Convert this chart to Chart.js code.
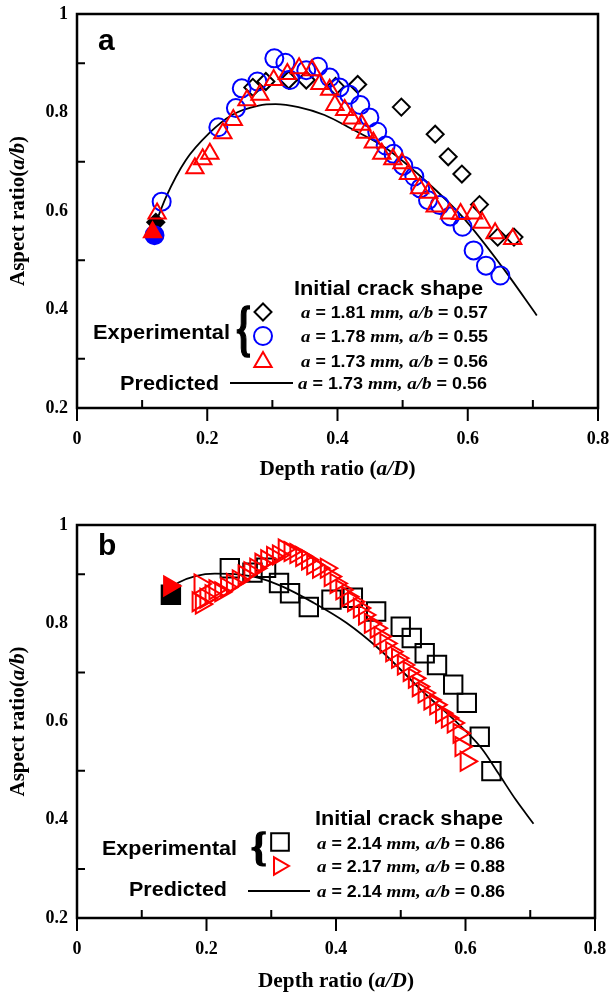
<!DOCTYPE html>
<html><head><meta charset="utf-8">
<script src="https://cdn.jsdelivr.net/npm/chart.js@4/dist/chart.umd.min.js"></script>
<style>
html,body{margin:0;padding:0;background:#fff;}
#wrap{position:relative;width:610px;height:992px;overflow:hidden;}
canvas{position:absolute;left:0;}
</style></head><body>
<div id="wrap">
<canvas id="c1" width="610" height="510" style="top:0px"></canvas>
<canvas id="c2" width="610" height="482" style="top:510px"></canvas>
</div>
<script>
// ---------- Panel (a) data ----------
const aDiamondX = [0.121, 0.270, 0.290, 0.325, 0.352, 0.397, 0.431, 0.498, 0.550, 0.570, 0.591, 0.618, 0.646, 0.671];
const aDiamondY = [0.577, 0.851, 0.863, 0.866, 0.866, 0.853, 0.857, 0.811, 0.756, 0.710, 0.675, 0.613, 0.547, 0.547];
const aCircleX = [0.119, 0.130, 0.217, 0.244, 0.253, 0.277, 0.303, 0.320, 0.327, 0.352, 0.370, 0.388, 0.403, 0.418, 0.435, 0.449, 0.461, 0.474, 0.486, 0.501, 0.518, 0.527, 0.539, 0.557, 0.573, 0.592, 0.609, 0.628, 0.650];
const aCircleY = [0.551, 0.619, 0.770, 0.809, 0.849, 0.863, 0.910, 0.901, 0.866, 0.886, 0.893, 0.871, 0.851, 0.836, 0.815, 0.790, 0.761, 0.733, 0.716, 0.692, 0.670, 0.646, 0.622, 0.612, 0.589, 0.568, 0.520, 0.489, 0.469];
const aTriX = [0.116, 0.123, 0.181, 0.193, 0.204, 0.224, 0.240, 0.261, 0.281, 0.302, 0.323, 0.341, 0.361, 0.373, 0.388, 0.396, 0.411, 0.422, 0.437, 0.443, 0.455, 0.468, 0.485, 0.499, 0.509, 0.526, 0.540, 0.550, 0.572, 0.589, 0.609, 0.622, 0.642, 0.669];
const aTriY = [0.557, 0.595, 0.687, 0.705, 0.716, 0.758, 0.785, 0.825, 0.836, 0.866, 0.878, 0.890, 0.886, 0.858, 0.846, 0.815, 0.805, 0.788, 0.775, 0.759, 0.739, 0.716, 0.705, 0.697, 0.675, 0.646, 0.637, 0.609, 0.595, 0.594, 0.595, 0.576, 0.555, 0.543];
const aPredX = [0.116, 0.137, 0.167, 0.203, 0.238, 0.279, 0.305, 0.340, 0.380, 0.420, 0.474, 0.533, 0.592, 0.652, 0.706];
const aPredY = [0.558, 0.629, 0.703, 0.758, 0.795, 0.814, 0.817, 0.811, 0.795, 0.768, 0.728, 0.664, 0.588, 0.488, 0.388];

// ---------- Panel (b) data ----------
const bSquareX = [0.145, 0.236, 0.271, 0.292, 0.312, 0.329, 0.358, 0.393, 0.426, 0.462, 0.500, 0.517, 0.537, 0.556, 0.581, 0.602, 0.622, 0.640];
const bSquareY = [0.858, 0.912, 0.903, 0.913, 0.882, 0.861, 0.833, 0.848, 0.852, 0.824, 0.793, 0.770, 0.739, 0.715, 0.675, 0.638, 0.569, 0.499];
const bTriX = [0.143, 0.190, 0.187, 0.192, 0.199, 0.207, 0.213, 0.222, 0.231, 0.240, 0.249, 0.258, 0.267, 0.276, 0.284, 0.293, 0.302, 0.311, 0.320, 0.329, 0.338, 0.347, 0.356, 0.364, 0.373, 0.385, 0.391, 0.400, 0.409, 0.418, 0.427, 0.436, 0.444, 0.453, 0.462, 0.468, 0.477, 0.486, 0.495, 0.504, 0.513, 0.521, 0.527, 0.536, 0.545, 0.554, 0.563, 0.572, 0.581, 0.590, 0.593, 0.601];
const bTriY = [0.876, 0.880, 0.844, 0.839, 0.851, 0.858, 0.868, 0.864, 0.873, 0.881, 0.888, 0.898, 0.905, 0.912, 0.922, 0.929, 0.936, 0.939, 0.951, 0.946, 0.942, 0.936, 0.929, 0.919, 0.912, 0.912, 0.895, 0.881, 0.868, 0.854, 0.844, 0.831, 0.817, 0.800, 0.790, 0.773, 0.759, 0.742, 0.729, 0.715, 0.702, 0.688, 0.671, 0.658, 0.644, 0.634, 0.617, 0.607, 0.597, 0.576, 0.549, 0.519];
const bPredX = [0.132, 0.157, 0.183, 0.213, 0.243, 0.279, 0.315, 0.365, 0.416, 0.467, 0.538, 0.589, 0.625, 0.652, 0.678, 0.705];
const bPredY = [0.859, 0.883, 0.896, 0.901, 0.900, 0.893, 0.876, 0.842, 0.801, 0.747, 0.656, 0.595, 0.545, 0.492, 0.440, 0.392];

// ---------- Axis ticks ----------
const xTickLabels = ['0', '0.2', '0.4', '0.6', '0.8'];
const yTickLabels = ['0.2', '0.4', '0.6', '0.8', '1'];
const xMinorTicks = [0.1, 0.3, 0.5, 0.7];
const yMinorTicks = [0.3, 0.5, 0.7, 0.9];

const SANS = '"Liberation Sans", Arial, sans-serif';
const SERIF = '"Liberation Serif", "Times New Roman", serif';

function pts(xs, ys) { return xs.map((x, i) => ({x: x, y: ys[i]})); }
function fills(n, color) { return Array.from({length: n}, (_, i) => i === 0 ? color : 'rgba(0,0,0,0)'); }

function rich(ctx, segs, x, y, width, align) {
  let total = 0;
  for (const [t, f] of segs) { ctx.font = f; total += ctx.measureText(t).width; }
  const sx = width ? width / total : 1;
  ctx.save();
  ctx.translate(x, y);
  ctx.scale(sx, 1);
  ctx.textBaseline = 'alphabetic';
  ctx.textAlign = 'left';
  let cx = align === 'center' ? -total / 2 : 0;
  for (const [t, f] of segs) { ctx.font = f; ctx.fillText(t, cx, 0); cx += ctx.measureText(t).width; }
  ctx.restore();
}

function rowText(a, ab) {
  const it = 'italic bold 17px ' + SERIF, b = 'bold 16px ' + SANS;
  return [['a', it], [' = ' + a + ' ', b], ['mm', it], [', ', it], ['a/b', it], [' = ' + ab, b]];
}

function marker(ctx, style, rot, r, x, y, color, lw) {
  ctx.save();
  ctx.strokeStyle = color; ctx.fillStyle = 'rgba(0,0,0,0)'; ctx.lineWidth = lw;
  Chart.helpers.drawPoint(ctx, {pointStyle: style, rotation: rot, radius: r, borderWidth: lw}, x, y);
  ctx.restore();
}

function brace(ctx, x, top, bottom, w) {
  const h = bottom - top;
  const em = h / 0.86;
  ctx.save();
  ctx.fillStyle = '#000';
  ctx.strokeStyle = '#000';
  ctx.lineWidth = 1.6;
  ctx.font = 'bold ' + em + 'px ' + SERIF;
  ctx.textBaseline = 'alphabetic';
  ctx.textAlign = 'left';
  ctx.fillText('{', x, top + 0.68 * em, w);
  ctx.strokeText('{', x, top + 0.68 * em, w);
  ctx.restore();
}

function framePlugin(extra) {
  return {
    id: 'frame',
    afterDatasetsDraw(chart) {
      const ctx = chart.ctx, a = chart.chartArea, xs = chart.scales.x, ys = chart.scales.y;
      ctx.save();
      ctx.strokeStyle = '#000';
      ctx.lineWidth = 2;
      ctx.beginPath();
      for (const lab of xTickLabels) {
        const px = xs.getPixelForValue(parseFloat(lab));
        ctx.moveTo(px, a.bottom); ctx.lineTo(px, a.bottom + 13);
      }
      for (const v of xMinorTicks) {
        const px = xs.getPixelForValue(v);
        ctx.moveTo(px, a.bottom); ctx.lineTo(px, a.bottom - 8);
      }
      for (const v of yMinorTicks) {
        const py = ys.getPixelForValue(v);
        ctx.moveTo(a.left, py); ctx.lineTo(a.left + 8, py);
      }
      ctx.stroke();
      ctx.lineWidth = 2.5;
      ctx.strokeRect(a.left, a.top, a.right - a.left, a.bottom - a.top);
      ctx.restore();
      ctx.save();
      ctx.fillStyle = '#000';
      extra(ctx, chart);
      ctx.restore();
    }
  };
}

function makeChart(id, datasets, extra) {
  const canvas = document.getElementById(id);
  const H = canvas.height;
  return new Chart(canvas, {
    type: 'scatter',
    data: {datasets: datasets},
    options: {
      responsive: false,
      animation: false,
      events: [],
      layout: {padding: {left: 0, right: 8, top: 14, bottom: 0}},
      plugins: {legend: {display: false}, tooltip: {enabled: false}},
      scales: {
        x: {
          type: 'linear', min: 0, max: 0.8,
          grid: {display: false, drawTicks: false},
          border: {display: false},
          ticks: {
            stepSize: 0.2, padding: 21, color: '#000', maxRotation: 0,
            font: {family: SERIF, weight: 'bold', size: 18},
            callback: (v) => { const i = Math.round(v / 0.2); return Math.abs(v - i * 0.2) < 1e-6 ? xTickLabels[i] : ''; }
          },
          afterFit: (s) => { s.height = H - 408; s.paddingLeft = 0; s.paddingRight = 0; }
        },
        y: {
          type: 'linear', min: 0.2, max: 1,
          grid: {display: false, drawTicks: false},
          border: {display: false},
          ticks: {
            stepSize: 0.2, padding: 9, color: '#000',
            font: {family: SERIF, weight: 'bold', size: 18},
            callback: (v) => { const i = Math.round((v - 0.2) / 0.2); return Math.abs(v - 0.2 - i * 0.2) < 1e-6 ? yTickLabels[i] : ''; }
          },
          afterFit: (s) => { s.width = 77; s.paddingTop = 0; s.paddingBottom = 0; }
        }
      }
    },
    plugins: [framePlugin(extra)]
  });
}

function axisTitles(ctx, chart, xBase) {
  const a = chart.chartArea;
  const b = 'bold 20px ' + SERIF, it = 'italic bold 20px ' + SERIF;
  rich(ctx, [['Depth ratio (', b], ['a/D', it], [')', b]], (a.left + a.right) / 2, xBase, 156, 'center');
  ctx.save();
  ctx.translate(24, (a.top + a.bottom) / 2);
  ctx.rotate(-Math.PI / 2);
  rich(ctx, [['Aspect ratio(', b], ['a/b', it], [')', b]], 0, 0, 150, 'center');
  ctx.restore();
}

// ---------- Chart (a) ----------
makeChart('c1', [
  {data: pts(aTriX, aTriY), pointStyle: 'triangle', pointRadius: 10, borderColor: '#ff0000', pointBorderWidth: 2, pointBackgroundColor: fills(aTriX.length, '#ff0000'), showLine: false},
  {data: pts(aCircleX, aCircleY), pointStyle: 'circle', pointRadius: 9, borderColor: '#0000ff', pointBorderWidth: 2, pointBackgroundColor: fills(aCircleX.length, '#0000ff'), showLine: false},
  {data: pts(aDiamondX, aDiamondY), pointStyle: 'rectRot', pointRadius: 8.5, borderColor: '#000', pointBorderWidth: 2, pointBackgroundColor: fills(aDiamondX.length, '#000'), showLine: false},
  {data: pts(aPredX, aPredY), showLine: true, pointRadius: 0, borderColor: '#000', borderWidth: 1.8, cubicInterpolationMode: 'monotone', fill: false}
], (ctx, chart) => {
  ctx.font = 'bold 30px ' + SANS; ctx.textBaseline = 'alphabetic'; ctx.textAlign = 'left';
  ctx.fillText('a', 98, 50);
  rich(ctx, [['Initial crack shape', 'bold 20px ' + SANS]], 294, 295, 189);
  rich(ctx, rowText('1.81', '0.57'), 301, 318, 187);
  rich(ctx, rowText('1.78', '0.55'), 301, 342, 187);
  rich(ctx, rowText('1.73', '0.56'), 301, 367, 187);
  rich(ctx, rowText('1.73', '0.56'), 298, 389, 189);
  rich(ctx, [['Experimental', 'bold 20px ' + SANS]], 93, 339, 137);
  rich(ctx, [['Predicted', 'bold 20px ' + SANS]], 120, 390, 99);
  brace(ctx, 236, 307, 360, 15);
  marker(ctx, 'rectRot', 0, 8.5, 263, 312, '#000', 2);
  marker(ctx, 'circle', 0, 9, 263, 336, '#0000ff', 2);
  marker(ctx, 'triangle', 0, 10, 263, 362, '#ff0000', 2);
  ctx.strokeStyle = '#000'; ctx.lineWidth = 1.8;
  ctx.beginPath(); ctx.moveTo(230, 383); ctx.lineTo(293, 383); ctx.stroke();
  axisTitles(ctx, chart, 475);
});

// ---------- Chart (b) ----------
makeChart('c2', [
  {data: pts(bTriX, bTriY), pointStyle: 'triangle', pointRotation: 90, pointRadius: 11, borderColor: '#ff0000', pointBorderWidth: 2, pointBackgroundColor: fills(bTriX.length, '#ff0000'), showLine: false},
  {data: pts(bSquareX, bSquareY), pointStyle: 'rect', pointRadius: 13, borderColor: '#000', pointBorderWidth: 2, pointBackgroundColor: fills(bSquareX.length, '#000'), showLine: false},
  {data: pts(bPredX, bPredY), showLine: true, pointRadius: 0, borderColor: '#000', borderWidth: 1.8, cubicInterpolationMode: 'monotone', fill: false}
], (ctx, chart) => {
  ctx.font = 'bold 30px ' + SANS; ctx.textBaseline = 'alphabetic'; ctx.textAlign = 'left';
  ctx.fillText('b', 98, 45);
  rich(ctx, [['Initial crack shape', 'bold 20px ' + SANS]], 315, 315, 188);
  rich(ctx, rowText('2.14', '0.86'), 317, 339, 188);
  rich(ctx, rowText('2.17', '0.88'), 317, 362, 188);
  rich(ctx, rowText('2.14', '0.86'), 317, 387, 188);
  rich(ctx, [['Experimental', 'bold 20px ' + SANS]], 102, 345, 135);
  rich(ctx, [['Predicted', 'bold 20px ' + SANS]], 129, 386, 98);
  brace(ctx, 251, 323, 357, 16);
  marker(ctx, 'rect', 0, 12.5, 280, 332, '#000', 2);
  marker(ctx, 'triangle', 90, 10, 279, 356, '#ff0000', 2);
  ctx.strokeStyle = '#000'; ctx.lineWidth = 1.8;
  ctx.beginPath(); ctx.moveTo(248, 381); ctx.lineTo(310, 381); ctx.stroke();
  axisTitles(ctx, chart, 477);
});
</script>
</body></html>
